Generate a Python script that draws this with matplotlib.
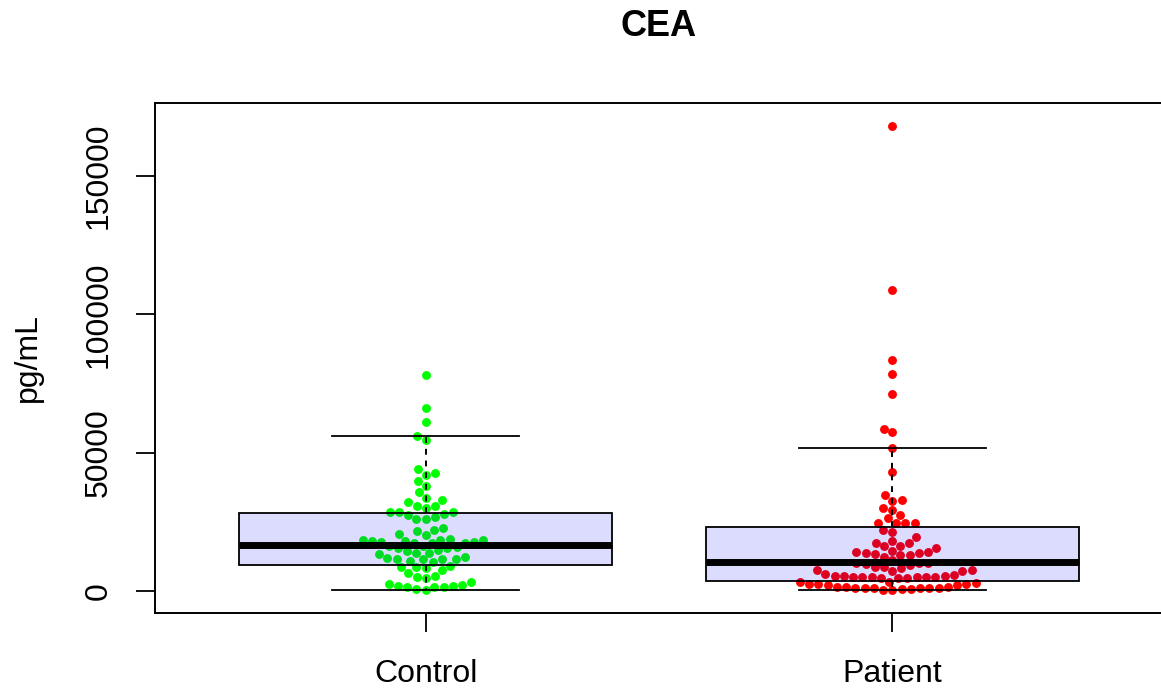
import numpy as np
import matplotlib
matplotlib.use("Agg")
import matplotlib.pyplot as plt

plt.rcParams["font.family"] = ["Liberation Sans", "DejaVu Sans"]

groups = ["Control", "Patient"]
point_colors = ["#00FF00", "#FF0000"]

control_vals = [
    77900, 66000, 61200, 56000, 54700, 44100, 42600, 42000, 39600, 38000,
    35900, 33600, 33000, 32100, 30800, 30800, 30000,
    28400, 27900, 28400, 28700, 26900, 26000, 26200, 27500,
    22100, 21600, 22700, 20300, 20500,
    18700, 18500, 17800, 18500, 17500, 17500, 17900, 17900, 17300, 17800, 18500,
    16300, 15800, 15500, 14600, 13900, 13900, 14900, 15500, 16100,
    12000, 10500, 11700, 11500, 11500, 11700, 12400, 11000, 13200,
    8300, 7600, 9100, 8800, 8700, 6400,
    5200, 4600, 5400,
    3100, 2300, 1800, 1600, 1600, 400, 800, 1600, 1900, 2500,
]

patient_vals = [
    168100, 108900, 83500, 78600, 71300, 58600, 57400,
    51700, 42900, 34800, 33000, 32700, 30000, 29300, 27500, 26300,
    24700, 24500, 24500, 24700, 22000, 21400, 19400,
    18000, 17300, 16400, 16100, 17500,
    14600, 14100, 13700, 12900, 13400, 12400, 13000, 13700, 14200, 15500,
    11200, 10300, 10000, 10000, 9800, 9400, 8800, 8600, 8300, 7600, 7600, 7200, 7200,
    6000, 5800, 5400, 5100, 5100, 5100, 5000, 4800, 4600, 4800, 5000, 5200, 5400, 5500,
    1600, 1300, 1200, 1200, 1000, 700, 700, 400, 200, 1200, 1200, 1200, 1600, 2000,
    3400, 3100, 2400, 2200, 2700, 2700, 2800,
]

# box stats (q1, median, q3, whisker ends)
box_q1 = [9400, 3600]
box_med = [16700, 10500]
box_q3 = [28300, 23200]
box_whislo = [360, 360]
box_whishi = [56100, 51800]

yticks = [0, 50000, 100000, 150000]


def swarm(y_px, d):
    # simple beeswarm: keep y, push x out until no overlap
    order = np.argsort(y_px, kind="stable")
    px, py = [], []
    xs = np.zeros(len(y_px))
    for i in order:
        y = y_px[i]
        cands = [0.0]
        for xj, yj in zip(px, py):
            dy = abs(yj - y)
            if dy < d:
                dx = np.sqrt(d * d - dy * dy)
                cands += [xj + dx, xj - dx]
        for c in sorted(cands, key=lambda c: (abs(c), c)):
            if all((c - xj) ** 2 + (y - yj) ** 2 >= d * d - 1e-6
                   for xj, yj in zip(px, py)):
                xs[i] = c
                break
        px.append(xs[i])
        py.append(y)
    return xs


fig = plt.figure(figsize=(11.61, 6.92), dpi=100)
ax = fig.add_axes([155 / 1161, 79 / 692, 1008 / 1161, 510 / 692])
ax.set_xlim(0.42, 2.58)
ax.set_ylim(-7950, 176400)

# pixels per data unit
ax_w, ax_h = 1008, 510
xpp = ax_w / (2.58 - 0.42)
ypp = ax_h / (176400 + 7950)

for k, vals in enumerate([control_vals, patient_vals]):
    v = np.array(vals, dtype=float)
    off = swarm(v * ypp, 9.3)
    ax.plot(k + 1 + off / xpp, v, "o", ms=6.4, mec="none",
            color=point_colors[k], zorder=2, clip_on=False)

stats = []
for k in range(2):
    stats.append(dict(med=box_med[k], q1=box_q1[k], q3=box_q3[k],
                      whislo=box_whislo[k], whishi=box_whishi[k], fliers=[]))

ax.bxp(stats, positions=[1, 2], widths=0.8, capwidths=0.4, patch_artist=True,
       showfliers=False, manage_ticks=False, zorder=3,
       boxprops=dict(facecolor=(0, 0, 1, 0.137), edgecolor="black", linewidth=1.3),
       medianprops=dict(color="black", linewidth=5),
       whiskerprops=dict(color="black", linewidth=1.4, linestyle=(0, (3, 3))),
       capprops=dict(color="black", linewidth=1.3))

ax.set_xticks([1, 2])
ax.set_xticklabels(groups, fontsize=23)
ax.set_yticks(yticks)
ax.set_yticklabels([str(t) for t in yticks], fontsize=23, rotation=90, va="center")
ax.tick_params(axis="both", length=14, width=1.3, color="black")
ax.tick_params(axis="x", pad=19)
ax.tick_params(axis="y", pad=16)
for s in ax.spines.values():
    s.set_linewidth(1.4)

ax.set_ylabel("pg/mL", fontsize=23, labelpad=29)
fig.text(659 / 1161, 1 - 27 / 692, "CEA", fontsize=26, fontweight="bold",
         ha="center", va="center")

fig.savefig("out.png", dpi=100)
